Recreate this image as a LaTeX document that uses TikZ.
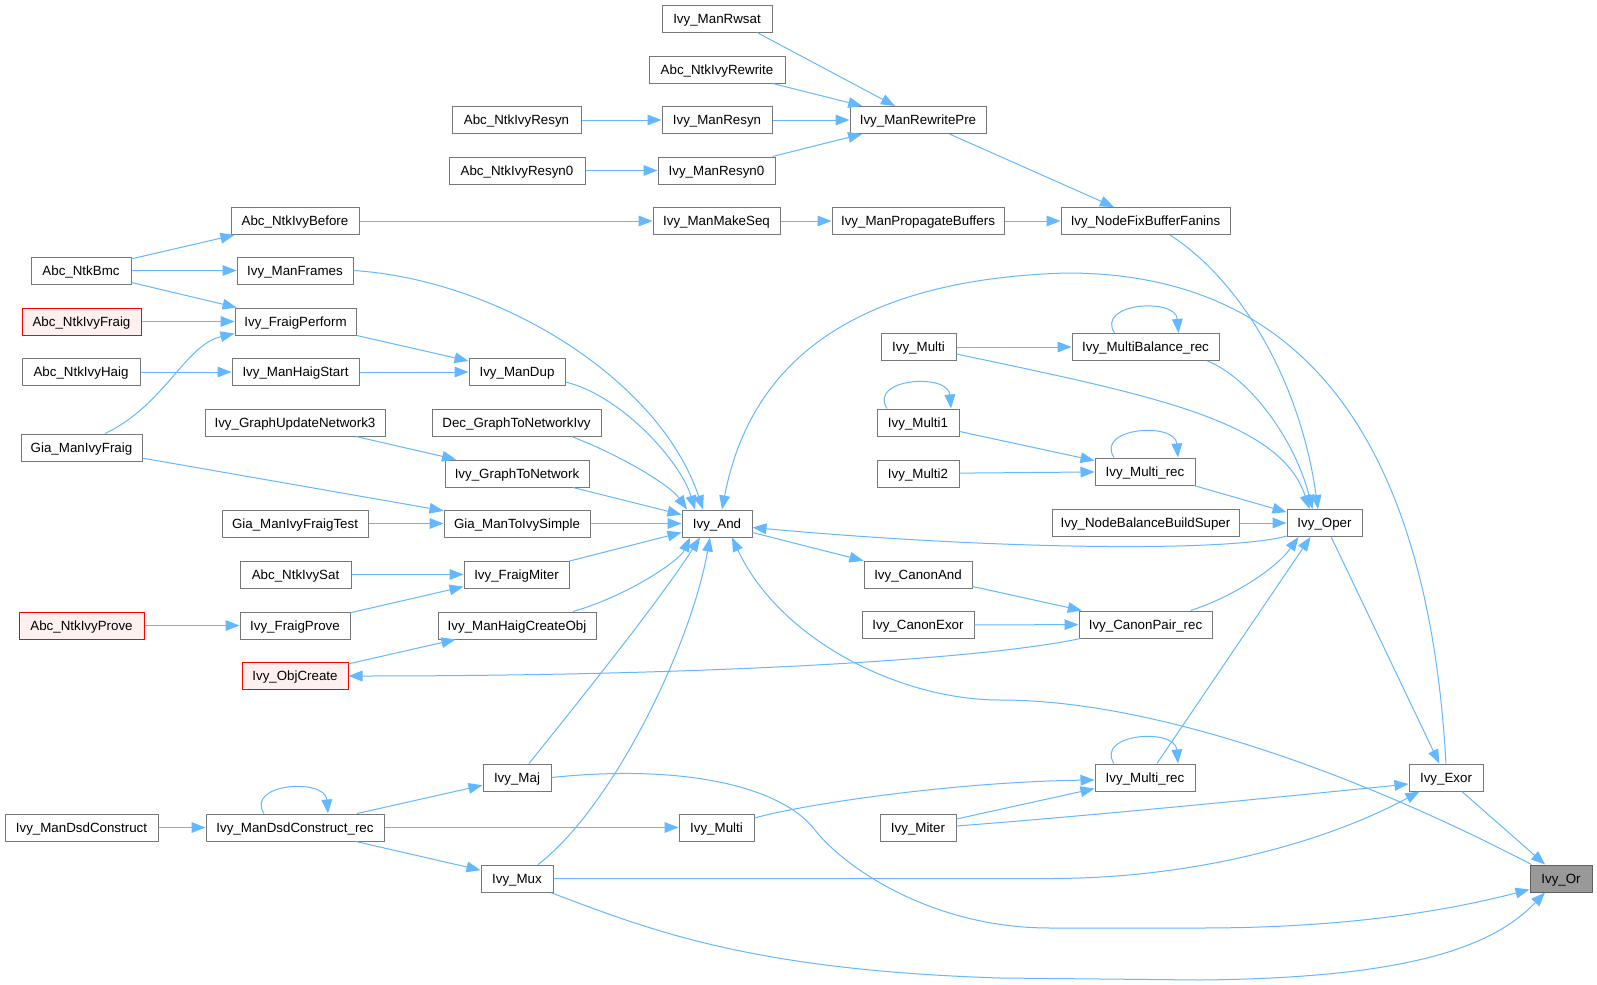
\documentclass[tikz,border=0pt]{standalone}
\usepackage{fontspec}
\setmainfont{Liberation Sans}
\usetikzlibrary{arrows.meta,calc}
\definecolor{edgec}{HTML}{63B8FF}
\definecolor{nborder}{HTML}{777777}
\definecolor{redfill}{HTML}{FFF0F0}
\definecolor{grayfill}{HTML}{999999}
\tikzset{
 fnode/.style={draw=nborder, line width=0.75pt, fill=white, minimum height=20.25pt, inner xsep=0pt, inner ysep=0pt, text height=8.2pt, text depth=1pt, font=\fontsize{10}{12}\selectfont},
 redbox/.style={fnode, draw=red, fill=redfill},
 hlbox/.style={fnode, draw=nborder!80!black, fill=grayfill},
 bw/.style={minimum width=#1*0.75pt},
 cedge/.style={draw=edgec, line width=0.75pt, -{Triangle[length=10.5pt,width=8pt]}},
}
\newcommand{\selfloop}[1]{\draw[cedge] ($(#1.north)+(-31,0)$) .. controls ($(#1.north)+(-50,-30)$) and ($(#1.north)+(30,-36)$) .. ($(#1.north)+(33,0)$);}
\begin{document}
\begin{tikzpicture}[x=0.75pt,y=-0.75pt]
\fill[white] (0,0) rectangle (1597,985);
\useasboundingbox (0,0) rectangle (1597,985);
% nodes
\node[fnode,bw=110] (rwsat) at (717,18.5) {Ivy\_ManRwsat};
\node[fnode,bw=136] (rewrite) at (717,69.5) {Abc\_NtkIvyRewrite};
\node[fnode,bw=129] (resynA) at (516.5,120) {Abc\_NtkIvyResyn};
\node[fnode,bw=110] (manresyn) at (717,120) {Ivy\_ManResyn};
\node[fnode,bw=136] (resynZA) at (517,170.5) {Abc\_NtkIvyResyn0};
\node[fnode,bw=117] (manresynZ) at (716.5,170.5) {Ivy\_ManResyn0};
\node[fnode,bw=136] (rewritepre) at (918,120) {Ivy\_ManRewritePre};
\node[fnode,bw=128] (before) at (295,221) {Abc\_NtkIvyBefore};
\node[fnode,bw=127] (makeseq) at (716.5,221) {Ivy\_ManMakeSeq};
\node[fnode,bw=172] (propbuf) at (918,221) {Ivy\_ManPropagateBuffers};
\node[fnode,bw=169] (fixbuf) at (1145.5,221) {Ivy\_NodeFixBufferFanins};
\node[fnode,bw=100] (bmc) at (81,270.5) {Abc\_NtkBmc};
\node[fnode,bw=116] (frames) at (295,270.5) {Ivy\_ManFrames};
\node[redbox,bw=119] (ivyfraig) at (81.5,321.5) {Abc\_NtkIvyFraig};
\node[fnode,bw=121] (fraigperf) at (295.5,321.5) {Ivy\_FraigPerform};
\node[fnode,bw=118] (haig) at (81,372) {Abc\_NtkIvyHaig};
\node[fnode,bw=127] (haigstart) at (295.5,372) {Ivy\_ManHaigStart};
\node[fnode,bw=96] (mandup) at (517,372) {Ivy\_ManDup};
\node[fnode,bw=180] (gun3) at (295,422.5) {Ivy\_GraphUpdateNetwork3};
\node[fnode,bw=169] (dec) at (516.5,422.5) {Dec\_GraphToNetworkIvy};
\node[fnode,bw=121] (giafraig) at (81.5,447.5) {Gia\_ManIvyFraig};
\node[fnode,bw=144] (g2n) at (517,473.5) {Ivy\_GraphToNetwork};
\node[fnode,bw=146] (giatest) at (295,523.5) {Gia\_ManIvyFraigTest};
\node[fnode,bw=146] (toivy) at (517,523.5) {Gia\_ManToIvySimple};
\node[fnode,bw=70] (nAnd) at (717,523.5) {Ivy\_And};
\node[fnode,bw=111] (sat) at (295.5,574.5) {Abc\_NtkIvySat};
\node[fnode,bw=105] (miter2) at (516.5,574.5) {Ivy\_FraigMiter};
\node[redbox,bw=125] (prove) at (81.5,625.5) {Abc\_NtkIvyProve};
\node[fnode,bw=110] (fprove) at (295,625.5) {Ivy\_FraigProve};
\node[fnode,bw=158] (hco) at (517,625.5) {Ivy\_ManHaigCreateObj};
\node[redbox,bw=106] (objcreate) at (295,676) {Ivy\_ObjCreate};
\node[fnode,bw=153] (dsd) at (81.5,827.5) {Ivy\_ManDsdConstruct};
\node[fnode,bw=178] (dsdrec) at (295,827.5) {Ivy\_ManDsdConstruct\_rec};
\node[fnode,bw=68] (maj) at (517,777.5) {Ivy\_Maj};
\node[fnode,bw=75] (multiB) at (716.5,827.5) {Ivy\_Multi};
\node[fnode,bw=72] (mux) at (517,878.5) {Ivy\_Mux};
\node[fnode,bw=75] (multiT) at (918.5,347) {Ivy\_Multi};
\node[fnode,bw=147] (mbal) at (1145.5,347) {Ivy\_MultiBalance\_rec};
\node[fnode,bw=82] (multi1) at (918,422.5) {Ivy\_Multi1};
\node[fnode,bw=82] (multi2) at (918,473.5) {Ivy\_Multi2};
\node[fnode,bw=100] (mrecT) at (1145,471.5) {Ivy\_Multi\_rec};
\node[fnode,bw=187] (nbbs) at (1145.5,523) {Ivy\_NodeBalanceBuildSuper};
\node[fnode,bw=75] (oper) at (1324.5,523) {Ivy\_Oper};
\node[fnode,bw=108] (canonand) at (918,574.5) {Ivy\_CanonAnd};
\node[fnode,bw=112] (canonexor) at (918,625) {Ivy\_CanonExor};
\node[fnode,bw=133] (cpair) at (1145.5,624.5) {Ivy\_CanonPair\_rec};
\node[fnode,bw=100] (mrecB) at (1145,777.5) {Ivy\_Multi\_rec};
\node[fnode,bw=76] (miter) at (918,827.5) {Ivy\_Miter};
\node[fnode,bw=74] (exor) at (1446,777.5) {Ivy\_Exor};
\node[hlbox,bw=62] (nOr) at (1561,878.5) {Ivy\_Or};
% edges
\draw[cedge] ($(rwsat.south)+(40,0)$) -- ($(rewritepre.north)+(-23,0)$);
\draw[cedge] (rewrite) -- (rewritepre);
\draw[cedge] (resynA) -- (manresyn);
\draw[cedge] (manresyn) -- (rewritepre);
\draw[cedge] (resynZA) -- (manresynZ);
\draw[cedge] (manresynZ) -- (rewritepre);
\draw[cedge] (rewritepre) -- (fixbuf);
\draw[cedge] (before) -- (makeseq);
\draw[cedge] (makeseq) -- (propbuf);
\draw[cedge] (propbuf) -- (fixbuf);
\draw[cedge] ($(fixbuf.south)+(24.5,0)$) .. controls (1240,280) and (1300,380) .. ($(oper.north)+(-6.5,0)$);
\draw[cedge] (bmc) -- (before);
\draw[cedge] (bmc) -- (frames);
\draw[cedge] (bmc) -- (fraigperf);
\draw[cedge] (ivyfraig) -- (fraigperf);
\draw[cedge] ($(giafraig.north)+(23.5,0)$) .. controls (165,405) and (185,345) .. ($(fraigperf.south west)+(0,-2)$);
\draw[cedge] (haig) -- (haigstart);
\draw[cedge] (fraigperf) -- (mandup);
\draw[cedge] (haigstart) -- (mandup);
\draw[cedge] (frames.east) .. controls (500,280) and (660,380) .. ($(nAnd.north)+(-14,0)$);
\draw[cedge] ($(mandup.east)+(0,10)$) .. controls (620,395) and (680,460) .. ($(nAnd.north)+(-22,0)$);
\draw[cedge] ($(dec.south)+(55,0)$) .. controls (620,455) and (670,485) .. ($(nAnd.north)+(-30,0)$);
\draw[cedge] (gun3) -- (g2n);
\draw[cedge] (g2n) -- (nAnd);
\draw[cedge] (giafraig) -- (toivy);
\draw[cedge] (giatest) -- (toivy);
\draw[cedge] (toivy) -- (nAnd);
\draw[cedge] (sat) -- (miter2);
\draw[cedge] (fprove) -- (miter2);
\draw[cedge] (prove) -- (fprove);
\draw[cedge] (miter2) -- (nAnd);
\draw[cedge] ($(hco.north)+(56,0)$) .. controls (630,595) and (680,560) .. ($(nAnd.south)+(-27,0)$);
\draw[cedge] (objcreate) -- (hco);
\draw[cedge] ($(cpair.south west)+(2,0)$) .. controls (980,660) and (700,676) .. (objcreate.east);
\draw[cedge] ($(maj.north)+(12,0)$) .. controls (580,700) and (660,600) .. ($(nAnd.south)+(-17,0)$);
\draw[cedge] ($(mux.north)+(21,0)$) .. controls (610,810) and (690,650) .. ($(nAnd.south)+(-7,0)$);
\draw[cedge] (dsd) -- (dsdrec);
\selfloop{dsdrec}
\draw[cedge] (dsdrec) -- (maj);
\draw[cedge] (dsdrec) -- (multiB);
\draw[cedge] (dsdrec) -- (mux);
\draw[cedge] ($(multiB.east)+(0,-9.5)$) .. controls (800,805) and (950,782) .. ($(mrecB.west)+(0,2.5)$);
\draw[cedge] (miter) -- (mrecB);
\selfloop{mrecB}
\draw[cedge] ($(mrecB.north)+(12,0)$) -- ($(oper.south)+(-14,0)$);
\draw[cedge] ($(miter.east)+(0,-1.5)$) .. controls (1100,815) and (1300,795) .. ($(exor.west)+(0,6.5)$);
\draw[cedge] (mux.east) -- (1050,878.5) .. controls (1200,878.5) and (1330,840) .. ($(exor.south west)+(11,0)$);
\draw[cedge] (maj.east) .. controls (680,764) and (780,785) .. (815,830) .. controls (843,866) and (930,928) .. (1050,928) -- (1200,928) .. controls (1350,928) and (1450,910) .. ($(nOr.south west)+(0,-3)$);
\draw[cedge] ($(mux.south east)+(-3,0)$) .. controls (650,930) and (750,970) .. (1000,978) -- (1200,980) .. controls (1400,978) and (1490,950) .. ($(nOr.south)+(-16,0)$);
\draw[cedge] (exor) -- (nOr);
\draw[cedge] (exor.north) .. controls (1430,480) and (1330,273) .. (1067,273) .. controls (820,280) and (745,390) .. ($(nAnd.north)+(5,0)$);
\draw[cedge] ($(nOr.north west)+(2,0)$) .. controls (1350,770) and (1150,700) .. (1000,700) .. controls (900,700) and (780,640) .. ($(nAnd.south)+(15,0)$);
\draw[cedge] ($(oper.south west)+(0,-1)$) .. controls (1230,552) and (1000,550) .. ($(nAnd.east)+(0,4)$);
\draw[cedge] (nAnd) -- (canonand);
\draw[cedge] (canonand) -- (cpair);
\draw[cedge] (canonexor) -- (cpair);
\draw[cedge] ($(cpair.north east)+(-22,0)$) .. controls (1230,598) and (1275,570) .. ($(oper.south)+(-26,0)$);
\draw[cedge] (oper) -- (exor);
\draw[cedge] (multiT) -- (mbal);
\selfloop{mbal}
\draw[cedge] ($(mbal.south east)+(-12,0)$) .. controls (1250,378) and (1295,440) .. ($(oper.north)+(-12,0)$);
\draw[cedge] ($(multiT.east)+(0,7)$) .. controls (1150,395) and (1280,420) .. ($(oper.north)+(-15,0)$);
\selfloop{multi1}
\draw[cedge] (multi1) -- (mrecT);
\draw[cedge] (multi2) -- (mrecT);
\selfloop{mrecT}
\draw[cedge] (mrecT) -- (oper);
\draw[cedge] (nbbs) -- (oper);
\end{tikzpicture}
\end{document}
